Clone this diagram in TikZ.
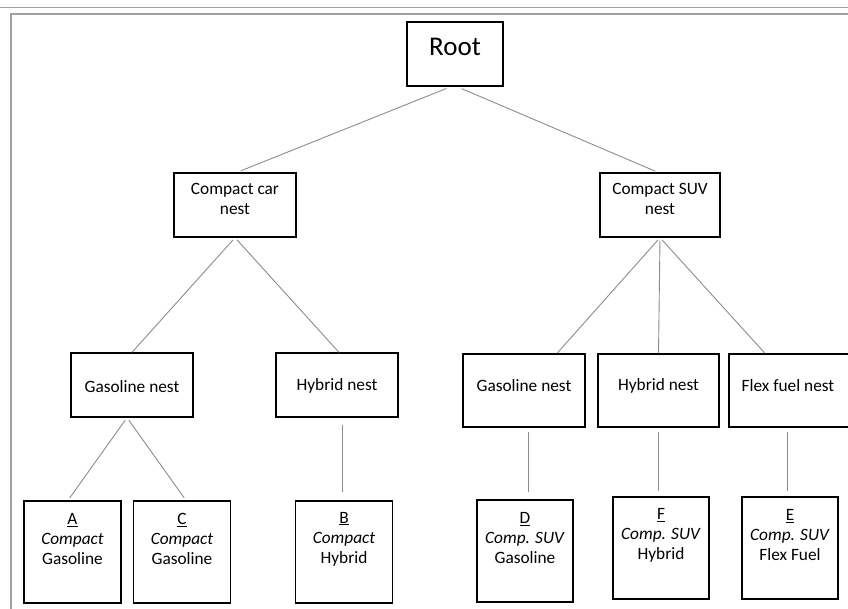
\documentclass[tikz,border=0pt]{standalone}
\usepackage{fontspec}
\setmainfont{Carlito}
\definecolor{linkgray}{HTML}{8C8C8C}
\definecolor{framegray}{HTML}{A0A0A0}
\begin{document}
\begin{tikzpicture}[x=1pt,y=-1pt,
  box/.style={draw=black,line width=1.3pt,inner sep=0pt},
  nestL/.style={box,minimum width=122pt,minimum height=64pt},
  nestR/.style={box,minimum width=122pt,minimum height=73pt},
  leaf/.style={box,minimum width=97pt,minimum height=102pt},
  txt/.style={align=center,inner sep=0pt,font=\fontsize{17.3}{20}\selectfont},
  link/.style={draw=linkgray,line width=0.9pt},
  framestyle/.style={draw=framegray,line width=1.2pt}]
\useasboundingbox (0,0) rectangle (848,608);
\fill[white] (0,0) rectangle (848,608);
% frame
\draw[framestyle,line width=0.9pt] (0,7) -- (848,7);
\draw[framestyle] (11,610) -- (11,14) -- (850,14);
% boxes
\node[box,minimum width=96pt,minimum height=64pt] (root) at (455,54) {};
\node[nestL] (car) at (235,205) {};
\node[nestL,minimum width=120pt] (suv) at (660,205) {};
\node[nestL] (gasL) at (132,385) {};
\node[nestL] (hybL) at (337,385) {};
\node[nestR] (gasR) at (524,390.5) {};
\node[nestR,minimum width=121pt] (hybR) at (658.5,390.5) {};
\node[nestR,minimum width=120pt] (flex) at (789,390.5) {};
\node[leaf] (A) at (72.5,552) {};
\node[leaf] (C) at (182,552) {};
\node[leaf] (B) at (344,552) {};
\node[leaf,minimum width=96pt] (D) at (525,551) {};
\node[leaf,minimum width=96pt] (F) at (661,548) {};
\node[leaf,minimum width=96pt] (E) at (790,548) {};
% texts
\node[txt,font=\fontsize{27}{30}\selectfont] (rootT) at (455,46.5) {Root};
\node[txt] (carT) at (235,199) {Compact car\\nest};
\node[txt] (suvT) at (660,199) {Compact SUV\\nest};
\node[txt] (gasLT) at (132,386.5) {Gasoline nest};
\node[txt] (hybLT) at (337,386) {Hybrid nest};
\node[txt] (gasRT) at (524,385.7) {Gasoline nest};
\node[txt] (hybRT) at (658.5,386) {Hybrid nest};
\node[txt] (flexT) at (788,386) {Flex fuel nest};
\node[txt] (AT) at (72.5,539) {\underline{A}\\\textit{Compact}\\Gasoline};
\node[txt] (CT) at (182,539) {\underline{C}\\\textit{Compact}\\Gasoline};
\node[txt] (BT) at (344,539) {\underline{B}\\\textit{Compact}\\Hybrid};
\node[txt] (DT) at (525,538.5) {\underline{D}\\\textit{Comp. SUV}\\Gasoline};
\node[txt] (FT) at (661,535.5) {\underline{F}\\\textit{Comp. SUV}\\Hybrid};
\node[txt] (ET) at (790,535.5) {\underline{E}\\\textit{Comp. SUV}\\Flex Fuel};
% connectors
\draw[link,shorten <=5pt,shorten >=4pt] ([xshift=-4pt]root.south) -- ([xshift=2pt]car.north);
\draw[link,shorten <=5pt,shorten >=3pt] ([xshift=2pt]root.south) -- ([xshift=-2pt]suv.north);
\draw[link,shorten <=3pt] (car.south) -- (gasL.north);
\draw[link,shorten <=3pt] (car.south) -- ([xshift=2pt]hybL.north);
\draw[link,shorten <=3pt] (suv.south) -- ([xshift=33pt]gasR.north);
\draw[link,shorten <=3pt] (suv.south) -- (hybR.north);
\draw[link,shorten <=3pt] (suv.south) -- ([xshift=-24pt]flex.north);
\draw[link,shorten <=3pt,shorten >=3pt] ([xshift=-5pt]gasL.south) -- ([xshift=-4.5pt]A.north);
\draw[link,shorten <=3pt,shorten >=3pt] ([xshift=-5pt]gasL.south) -- ([xshift=4pt]C.north);
\draw[link,shorten <=7pt,shorten >=8pt] ([xshift=-1.5pt]B.north |- hybL.south) -- ([xshift=-1.5pt]B.north);
\draw[link,shorten <=4pt,shorten >=7pt] ([xshift=3pt]D.north |- gasR.south) -- ([xshift=3pt]D.north);
\draw[link,shorten <=4pt,shorten >=5pt] ([xshift=-3pt]F.north |- hybR.south) -- ([xshift=-3pt]F.north);
\draw[link,shorten <=4pt,shorten >=5pt] ([xshift=-3pt]E.north |- flex.south) -- ([xshift=-3pt]E.north);
\end{tikzpicture}
\end{document}
